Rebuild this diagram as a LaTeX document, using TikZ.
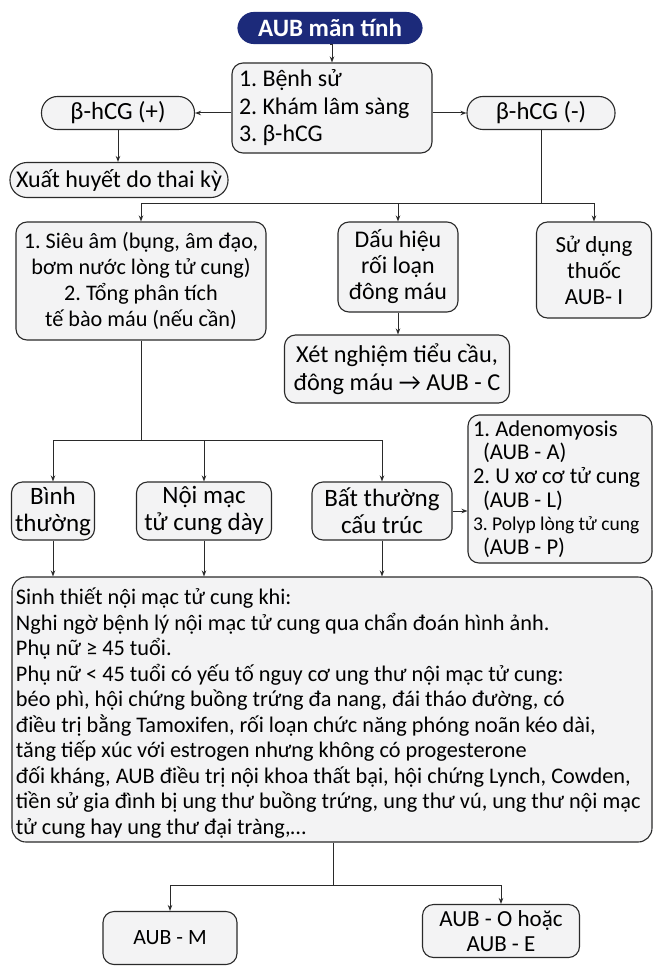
\documentclass[tikz,border=0pt]{standalone}
\usepackage{fontspec}
\setmainfont{Carlito}
\frenchspacing
\usetikzlibrary{arrows.meta,calc}
\definecolor{navy}{HTML}{1C2A7A}
\definecolor{boxfill}{HTML}{F3F3F4}
\definecolor{edge}{HTML}{2A2A2A}
\newcommand{\fs}[2]{\fontsize{#1}{#2}\selectfont}
\newcommand{\nsp}{\spaceskip=0pt\xspaceskip=0pt\relax}
\tikzset{
  box/.style={draw=edge,line width=1.1pt,fill=boxfill,rounded corners=11pt,
    inner sep=2pt,align=center,text=black,font=\fs{24}{26}},
  pill/.style={box,rounded corners=16pt},
  arr/.style={draw=edge,line width=1pt,-{Stealth[length=6pt,width=4.5pt]}},
  ln/.style={draw=edge,line width=1pt},
}
\begin{document}
\begin{tikzpicture}[x=1pt,y=-1pt]
\useasboundingbox[fill=white] (0,0) rectangle (662,971);
% nodes
\node[pill,fill=navy,draw=navy,text=white,minimum width=184pt,minimum height=31pt,
  font=\bfseries\fs{25}{26}] (title) at (330,28) {AUB mãn tính};
\node[box,align=left,minimum width=200pt,minimum height=90pt,text width=186pt,inner xsep=7pt,
  font=\fs{23.9}{27.5}] (hist) at (332,108)
  {\nsp 1. Bệnh sử\\2. Khám lâm sàng\\3. β-hCG};
\node[pill,minimum width=153pt,minimum height=33pt,font=\fs{24.7}{26}] (pos) at (118,113) {β-hCG (+)};
\node[pill,minimum width=148pt,minimum height=33pt,font=\fs{24.7}{26}] (neg) at (541,113) {β-hCG (-)};
\node[pill,minimum width=218pt,minimum height=35pt,rounded corners=17pt,font=\fs{24}{26}] (preg) at (119,180) {Xuất huyết do thai kỳ};
\node[box,minimum width=250pt,minimum height=118pt,font=\fs{22.2}{26}] (us) at (141,281)
  {1. Siêu âm (bụng, âm đạo,\\bơm nước lòng tử cung)\\2. Tổng phân tích\\tế bào máu (nếu cần)};
\node[box,minimum width=120pt,minimum height=90pt,font=\fs{23.9}{26}] (coag) at (398,267)
  {Dấu hiệu\\rối loạn\\đông máu};
\node[box,minimum width=115pt,minimum height=96pt,font=\fs{23}{26}] (drug) at (594,270)
  {Sử dụng\\thuốc\\AUB- I};
\node[box,minimum width=225pt,minimum height=68pt,font=\fs{24.3}{28}] (test) at (397,369)
  {Xét nghiệm tiểu cầu,\\đông máu → AUB - C};
\node[box,minimum width=83pt,minimum height=58pt,font=\fs{25}{27}] (norm) at (53,511)
  {Bình\\thường};
\node[box,minimum width=135pt,minimum height=58pt,font=\fs{25}{27}] (thick) at (204,511)
  {Nội mạc\\tử cung dày};
\node[box,minimum width=140pt,minimum height=58pt,font=\fs{25}{27}] (struct) at (382,511)
  {Bất thường\\cấu trúc};
\node[box,align=left,minimum width=184pt,minimum height=148pt,text width=174pt,inner xsep=5pt,
  font=\fs{22.6}{23.7}] (list) at (560,489)
  {\nsp 1. Adenomyosis\\\hspace*{10pt}(AUB - A)\\2. U xơ cơ tử cung\\\hspace*{10pt}(AUB - L)\\{\fs{19.5}{23.7}3. Polyp lòng tử cung}\\\hspace*{10pt}(AUB - P)};
\node[box,align=left,minimum width=640pt,minimum height=265pt,text width=632pt,inner xsep=4pt,rounded corners=14pt,
  font=\fs{22.3}{25.5}] (bx) at (332,709.5)
  {\nsp\rule{0pt}{24pt}Sinh thiết nội mạc tử cung khi:\\
   Nghi ngờ bệnh lý nội mạc tử cung qua chẩn đoán hình ảnh.\\
   Phụ nữ ≥ 45 tuổi.\\
   Phụ nữ < 45 tuổi có yếu tố nguy cơ ung thư nội mạc tử cung:\\
   béo phì, hội chứng buồng trứng đa nang, đái tháo đường, có\\
   điều trị bằng Tamoxifen, rối loạn chức năng phóng noãn kéo dài,\\
   tăng tiếp xúc với estrogen nhưng không có progesterone\\
   đối kháng, AUB điều trị nội khoa thất bại, hội chứng Lynch, Cowden,\\
   tiền sử gia đình bị ung thư buồng trứng, ung thư vú, ung thư nội mạc\\
   tử cung hay ung thư đại tràng,…};
\node[box,minimum width=134pt,minimum height=53pt,font=\fs{21.8}{26}] (m) at (170,938) {AUB - M};
\node[box,minimum width=157pt,minimum height=53pt,font=\fs{23}{25}] (oe) at (501,931) {AUB - O hoặc\\AUB - E};
% junctions
\coordinate (j1) at (541,203);
\coordinate (j2) at (141,440);
\coordinate (j3) at (333,885);
% connectors
\draw[arr] (title.south) -- (hist.north |- title.south) -- (hist.north);
\draw[arr] (hist.west |- pos.east) -- (pos.east);
\draw[arr] (hist.east |- neg.west) -- (neg.west);
\draw[arr] (pos.south) -- (pos.south |- preg.north);
\draw[ln] (neg.south) -- (j1);
\draw[arr] (j1) -| (drug.north);
\draw[arr] (j1) -| (coag.north);
\draw[arr] (j1) -| (us.north);
\draw[arr] (coag.south) -- (coag.south |- test.north);
\draw[ln] (us.south) -- (j2);
\draw[arr] (j2) -| (norm.north);
\draw[arr] (j2) -| (thick.north);
\draw[arr] (j2) -| (struct.north);
\draw[arr] (struct.east) -- (struct.east -| list.west);
\draw[arr] (norm.south) -- (norm.south |- bx.north);
\draw[arr] (thick.south) -- (thick.south |- bx.north);
\draw[arr] (struct.south) -- (struct.south |- bx.north);
\draw[ln] (bx.south -| j3) -- (j3);
\draw[arr] (j3) -| (m.north);
\draw[arr] (j3) -| (oe.north);
\end{tikzpicture}
\end{document}
